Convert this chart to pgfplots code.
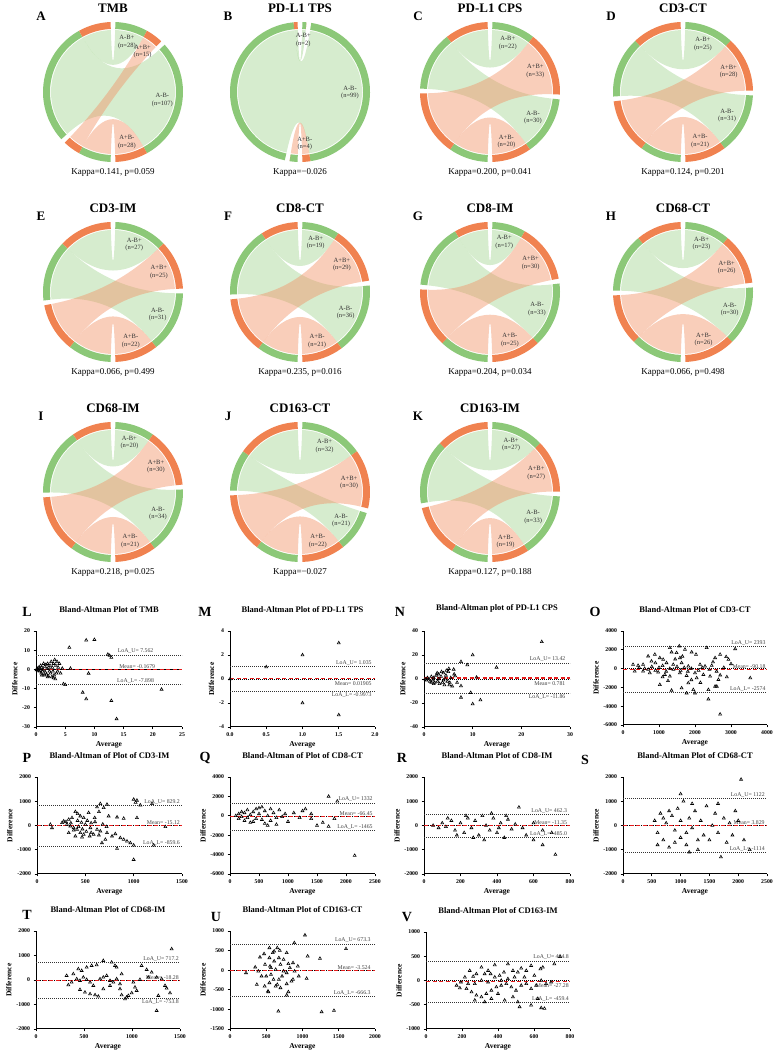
\documentclass[border=0pt]{standalone}
\usepackage{fontspec}
\setmainfont{Liberation Serif}
\usepackage{pgfplots}
\pgfplotsset{compat=1.18}
\definecolor{ringG}{RGB}{140,200,120}
\definecolor{ringO}{RGB}{240,130,80}
\definecolor{ribG}{RGB}{164,213,146}
\definecolor{ribO}{RGB}{242,146,102}
\definecolor{mred}{RGB}{230,30,30}
\pgfplotsset{
 chordax/.style={hide axis, x=1pt, y=1pt, xmin=-80, xmax=80, ymin=-80, ymax=80, anchor=center, clip=false},
 ba/.style={scale only axis, anchor=south west, clip=false,
  axis lines*=left,
  axis line style={line width=1pt, black},
  tick align=outside, major tick length=2.5pt,
  tick style={black, line width=0.8pt},
  tick label style={font=\bfseries\fontsize{5.8}{6}\selectfont},
  /pgf/number format/1000 sep={},
  /pgf/number format/assume math mode=true,
  scaled ticks=false,
  xlabel={Average}, ylabel={Difference},
  xlabel style={font=\bfseries\fontsize{7.5}{8}\selectfont, yshift=2pt},
  ylabel style={font=\bfseries\fontsize{7.5}{8}\selectfont, yshift=-2pt},
  title style={font=\bfseries\fontsize{8.5}{9}\selectfont, yshift=9pt}},
 pts/.style={only marks, mark=triangle, mark size=1.7pt, mark options={black, line width=0.6pt}},
 meanl/.style={mred, line width=1.2pt, dash pattern=on 4pt off 2.5pt},
 loal/.style={black!80, line width=0.6pt, dash pattern=on 0.6pt off 1.4pt},
 zerol/.style={black, line width=0.5pt, dash pattern=on 0.6pt off 1.4pt},
}
\tikzset{clab/.style={font=\fontsize{6.5}{7.5}\selectfont, align=center, text=black!80, inner sep=0pt},
 lbl/.style={font=\fontsize{5.8}{6}\selectfont, text=black!75, inner sep=1pt},
 plet/.style={font=\bfseries\fontsize{14}{15}\selectfont},
 clet/.style={font=\bfseries\fontsize{13}{14}\selectfont}}

\newcommand{\chordring}[3]{\fill[#3] ({70*cos(#1)},{70*sin(#1)}) arc[start angle=#1,end angle=#2,radius=70pt] -- ({63*cos(#2)},{63*sin(#2)}) arc[start angle=#2,end angle=#1,radius=63pt] -- cycle;}
\newcommand{\chordrib}[5]{\fill[#5, fill opacity=0.45] ({62*cos(#1)},{62*sin(#1)}) arc[start angle=#1,end angle=#2,radius=62pt] .. controls ({20.7*cos(#2)},{20.7*sin(#2)}) and ({20.7*cos(#3)},{20.7*sin(#3)}) .. ({62*cos(#3)},{62*sin(#3)}) arc[start angle=#3,end angle=#4,radius=62pt] .. controls ({20.7*cos(#4)},{20.7*sin(#4)}) and ({20.7*cos(#1)},{20.7*sin(#1)}) .. cycle;}

% #1 cx, #2 cy, #3 A-B+, #4 A+B+, #5 A-B-, #6 A+B-, #7 title, #8 letter, #9 kappa
\newcommand{\chord}[9]{%
 \pgfmathsetmacro{\chT}{#3+#4+#5+#6}%
 \pgfmathsetmacro{\chU}{(360-16)/(2*\chT)}%
 \pgfmathsetmacro{\tA}{88}%
 \pgfmathsetmacro{\tB}{\tA-#3*\chU}%
 \pgfmathsetmacro{\tC}{\tB-#4*\chU}%
 \pgfmathsetmacro{\tD}{\tC-4}%
 \pgfmathsetmacro{\tE}{\tD-#5*\chU}%
 \pgfmathsetmacro{\tF}{\tE-#6*\chU}%
 \pgfmathsetmacro{\pA}{-92}%
 \pgfmathsetmacro{\pB}{\pA-#6*\chU}%
 \pgfmathsetmacro{\pC}{\pB-#4*\chU}%
 \pgfmathsetmacro{\pD}{\pC-4}%
 \pgfmathsetmacro{\pE}{\pD-#5*\chU}%
 \pgfmathsetmacro{\pF}{\pE-#3*\chU}%
 \pgfmathsetmacro{\mA}{(\tA+\tB)/2}%
 \pgfmathsetmacro{\mB}{(\tB+\tC)/2}%
 \pgfmathsetmacro{\mC}{(\tD+\tE)/2}%
 \pgfmathsetmacro{\mD}{(\tE+\tF)/2}%
 \begin{axis}[chordax, at={(#1pt,#2pt)}]
  \chordrib{\tA}{\tB}{\pE}{\pF}{ribG}
  \chordrib{\tD}{\tE}{\pD}{\pE}{ribG}
  \ifnum#4>0 \chordrib{\tB}{\tC}{\pB}{\pC}{ribO}\fi
  \chordrib{\tE}{\tF}{\pA}{\pB}{ribO}
  \chordring{\tA}{\tB}{ringG}
  \chordring{\tB}{\tC}{ringO}
  \chordring{\tD}{\tE}{ringG}
  \chordring{\tE}{\tF}{ringO}
  \chordring{\pA}{\pB}{ringG}
  \chordring{\pB}{\pC}{ringO}
  \chordring{\pD}{\pE}{ringG}
  \chordring{\pE}{\pF}{ringO}
  \node[clab] at ({52*cos(\mA)},{52*sin(\mA)}) {A-B+\\(n=#3)};
  \ifnum#4>0 \node[clab] at ({50*cos(\mB)},{50*sin(\mB)}) {A+B+\\(n=#4)};\fi
  \node[clab] at ({50*cos(\mC)},{50*sin(\mC)}) {A-B-\\(n=#5)};
  \node[clab] at ({52*cos(\mD)},{52*sin(\mD)}) {A+B-\\(n=#6)};
 \end{axis}
 \node[clet] at (#1pt,#2pt+84pt) {#7};
 \node[clet] at (#1pt-72pt,#2pt+76pt) {#8};
 \node[font=\fontsize{9}{10}\selectfont] at (#1pt,#2pt-80pt) {#9};
}

\begin{document}
\begin{tikzpicture}
\useasboundingbox (0,0) rectangle (776pt,1053pt);

\chord{113}{961}{28}{15}{107}{28}{TMB}{A}{Kappa=0.141, p=0.059}
\chord{300}{961}{2}{0}{99}{4}{PD-L1 TPS}{B}{Kappa=−0.026}
\chord{490}{961}{22}{33}{30}{20}{PD-L1 CPS}{C}{Kappa=0.200, p=0.041}
\chord{683}{961}{25}{28}{31}{21}{CD3-CT}{D}{Kappa=0.124, p=0.201}
\chord{113}{761}{27}{25}{31}{22}{CD3-IM}{E}{Kappa=0.066, p=0.499}
\chord{300}{761}{19}{29}{36}{21}{CD8-CT}{F}{Kappa=0.235, p=0.016}
\chord{490}{761}{17}{30}{33}{25}{CD8-IM}{G}{Kappa=0.204, p=0.034}
\chord{683}{761}{23}{26}{30}{26}{CD68-CT}{H}{Kappa=0.066, p=0.498}
\chord{113}{561}{20}{30}{34}{21}{CD68-IM}{I}{Kappa=0.218, p=0.025}
\chord{300}{561}{32}{30}{21}{22}{CD163-CT}{J}{Kappa=−0.027}
\chord{490}{561}{27}{27}{33}{19}{CD163-IM}{K}{Kappa=0.127, p=0.188}

% ---------------- L
\begin{axis}[ba, at={(36pt,326pt)}, width=146pt, height=96pt, xmin=0, xmax=25, ymin=-30, ymax=20,
 xtick={0,5,...,25}, ytick={-30,-20,...,20}, title={Bland-Altman Plot of TMB}]
\addplot[black, line width=0.8pt] coordinates {(0,0) (25,0)};
\addplot[loal] coordinates {(0,7.562) (25,7.562)};
\addplot[loal] coordinates {(0,-7.898) (25,-7.898)};
\addplot[meanl] coordinates {(0,-0.1679) (25,-0.1679)};
\addplot[pts] coordinates {(0.1,-0.3) (0.15,0.2) (0.2,0) (0.3,0.5) (0.4,-0.5) (0.5,1) (0.6,-1) (0.7,0.5) (0.8,2) (0.9,-2) (1,1) (1.0,-3) (1.1,-1) (1.2,0) (1.3,3) (1.4,-3) (1.5,1.5) (1.6,-1.5) (1.7,2.5) (1.8,-2.5) (1.9,0.5) (2,3) (2.0,-4) (2.1,-3.5) (2.2,1) (2.3,-1) (2.4,2) (2.5,-2) (2.6,4) (2.7,-4) (2.8,1) (2.9,-1) (3,3) (3.0,-4.5) (3.1,-3) (3.2,5) (3.3,-5) (3.4,2) (3.5,-2) (3.6,4) (3.7,-1) (3.8,1) (4,3) (4.2,-2) (4.5,0.5) (4.7,-7.6) (5.0,-8) (5.7,11.4) (5.9,0.5) (8.6,15.2) (10.0,15.5) (9.0,-2.1) (8.0,-12) (8.6,-15.4) (12.3,7.8) (12.6,7.2) (12.9,6.2) (12.9,-16.3) (13.8,-25.8) (21.5,-10.4)};
\node[lbl, anchor=south east] at (axis cs:20.3,7.562) {LoA\_U= 7.562};
\node[lbl, anchor=south east] at (axis cs:20.6,-0.1679) {Mean= -0.1679};
\node[lbl, anchor=south east] at (axis cs:20.4,-7.898) {LoA\_L= -7.898};
\end{axis}
\node[plet] at (27pt,441pt) {L};

% ---------------- M
\begin{axis}[ba, at={(230pt,326pt)}, width=145pt, height=96pt, xmin=0, xmax=2, ymin=-4, ymax=4,
 xtick={0,0.5,...,2}, ytick={-4,-2,...,4}, title={Bland-Altman Plot of PD-L1 TPS},
 xticklabel style={/pgf/number format/.cd, fixed, fixed zerofill, precision=1}]
\addplot[zerol] coordinates {(0,0) (2,0)};
\addplot[loal] coordinates {(0,1.035) (2,1.035)};
\addplot[loal] coordinates {(0,-0.9973) (2,-0.9973)};
\addplot[meanl] coordinates {(0,0.01905) (2,0.01905)};
\addplot[pts] coordinates {(0,0) (0.5,1) (1,2) (1,-2) (1.5,3) (1.5,-3)};
\node[lbl, anchor=south east] at (axis cs:1.97,1.035) {LoA\_U= 1.035};
\node[lbl, anchor=north east] at (axis cs:1.97,-0.1) {Mean= 0.01905};
\node[lbl, anchor=north east] at (axis cs:1.97,-0.9973) {LoA\_L= -0.9973};
\end{axis}
\node[plet] at (205pt,441pt) {M};

% ---------------- N
\begin{axis}[ba, at={(424pt,326pt)}, width=146pt, height=96pt, xmin=0, xmax=30, ymin=-40, ymax=40,
 xtick={0,10,...,30}, ytick={-40,-20,...,40}, title={Bland-Altman plot of PD-L1 CPS}]
\addplot[zerol] coordinates {(0,0) (30,0)};
\addplot[loal] coordinates {(0,13.42) (30,13.42)};
\addplot[loal] coordinates {(0,-11.86) (30,-11.86)};
\addplot[meanl] coordinates {(0,0.781) (30,0.781)};
\addplot[pts] coordinates {(0.2,0) (0.5,-1) (0.7,1) (1,0) (1.2,-2) (1.5,2) (1.8,-1) (2,1) (2.2,-3) (2.5,3) (2.8,-2) (3,4) (3.2,-4) (3.5,2) (3.8,-3) (4,5) (4.2,-5) (4.5,3) (4.8,-2) (5,6) (5.2,-5) (5.5,1) (5.8,-6) (6.2,4) (3,0) (2,-4) (4,-1) (1.5,-3) (2.7,5) (3.6,6) (4.6,7) (6.8,-3) (4.4,0) (5.3,-3) (24.2,31) (10,20) (7.6,14.4) (8.9,11.7) (14.9,9.7) (6.1,8) (5.1,8.6) (6.4,2.5) (10.8,1.4) (7.6,-5.8) (9.6,-11.4) (7.6,-15.3) (10,-20.8) (11.6,-17.5)};
\node[lbl, anchor=south east] at (axis cs:29.3,13.42) {LoA\_U= 13.42};
\node[lbl, anchor=north east] at (axis cs:29.3,-1) {Mean= 0.781};
\node[lbl, anchor=north east] at (axis cs:29.3,-11.86) {LoA\_L= -11.86};
\end{axis}
\node[plet] at (400pt,441pt) {N};

% ---------------- O
\begin{axis}[ba, at={(623pt,328pt)}, width=144pt, height=94pt, xmin=0, xmax=4000, ymin=-6000, ymax=4000,
 xtick={0,1000,...,4000}, ytick={-6000,-4000,...,4000}, title={Bland-Altman Plot of CD3-CT}]
\addplot[zerol] coordinates {(0,0) (4000,0)};
\addplot[loal] coordinates {(0,2393) (4000,2393)};
\addplot[loal] coordinates {(0,-2574) (4000,-2574)};
\addplot[meanl] coordinates {(0,-90.18) (4000,-90.18)};
\addplot[pts] coordinates {(1302,2214) (1563,2393) (1349,1750) (1488,1679) (1581,1143) (1721,2036) (1907,1750) (2028,1500) (2326,2214) (2698,1500) (2558,1143) (2865,1250) (2930,964) (3116,2100) (698,1321) (884,1500) (1023,1143) (1116,964) (791,786) (558,429) (419,321) (1209,607) (1395,429) (1628,607) (1814,250) (2140,429) (2279,250) (2465,321) (279,429) (326,-286) (558,-286) (744,-464) (977,-393) (1163,-643) (1302,-821) (1581,-464) (1767,-750) (2000,-464) (2047,-1000) (2233,-643) (2419,-821) (2651,-1179) (2884,-893) (3535,-1000) (1023,-1714) (1349,-2321) (1628,-2071) (1814,-1536) (1953,-2250) (2000,-2607) (1767,-2607) (2372,-2250) (2558,-1893) (2605,-1893) (2372,-3250) (2698,-4857) (450,100) (600,0) (700,-100) (800,200) (900,-200) (1000,100) (1100,300) (1200,-300) (1300,0) (1400,-100) (1500,200) (1600,-200) (1700,100) (1800,-300) (1900,0) (2100,-200) (2200,100) (2400,-100) (2600,-300) (2800,100) (1450,1000) (1650,1300) (1250,-1300) (1900,-1200) (2150,-1500) (900,600) (1100,-900) (2500,700) (2700,-700) (3000,500)};
\node[lbl, anchor=south east] at (axis cs:3990,2393) {LoA\_U= 2393};
\node[lbl, anchor=south east] at (axis cs:3990,-150) {Mean= -90.18};
\node[lbl, anchor=south east] at (axis cs:3990,-2574) {LoA\_L= -2574};
\end{axis}
\node[plet] at (595pt,441pt) {O};

% ---------------- P
\begin{axis}[ba, at={(37pt,179pt)}, width=145pt, height=97pt, xmin=0, xmax=1500, ymin=-2000, ymax=2000,
 xtick={0,500,...,1500}, ytick={-2000,-1000,...,2000}, title={Bland-Altman of Plot of CD3-IM}]
\addplot[zerol] coordinates {(0,0) (1500,0)};
\addplot[loal] coordinates {(0,829.2) (1500,829.2)};
\addplot[loal] coordinates {(0,-859.6) (1500,-859.6)};
\addplot[meanl] coordinates {(0,-15.12) (1500,-15.12)};
\addplot[pts] coordinates {(1000,1076) (1034,1034) (1020,950) (1069,841) (1190,897) (397,566) (421,483) (448,386) (362,317) (328,248) (483,317) (534,524) (597,317) (621,759) (655,897) (690,731) (724,869) (641,566) (741,386) (828,345) (897,290) (1034,317) (500,41) (552,-97) (621,-166) (655,-234) (724,-303) (776,-441) (810,-345) (862,-510) (897,-579) (931,-648) (966,-717) (1000,-814) (828,-952) (1000,-1407) (1207,-814) (1328,-55) (138,41) (155,-97) (259,110) (276,179) (310,41) (345,-28) (379,-97) (414,-166) (448,-303) (483,-372) (328,-303) (397,-441) (466,-483) (545,-441) (586,-372) (672,-717) (707,-579) (300,150) (350,100) (420,200) (460,120) (520,200) (560,100) (600,150) (680,50) (720,-50) (380,-200) (430,-50) (470,-150) (510,-250) (560,-300) (640,-400)};
\node[lbl, anchor=south east] at (axis cs:1490,829.2) {LoA\_U= 829.2};
\node[lbl, anchor=south east] at (axis cs:1490,-15.12) {Mean= -15.12};
\node[lbl, anchor=south east] at (axis cs:1490,-859.6) {LoA\_L= -859.6};
\end{axis}
\node[plet] at (27pt,295pt) {P};

% ---------------- Q
\begin{axis}[ba, at={(230pt,179pt)}, width=145pt, height=97pt, xmin=0, xmax=2500, ymin=-6000, ymax=4000,
 xtick={0,500,...,2500}, ytick={-6000,-4000,...,4000}, title={Bland-Altman of Plot of CD8-CT}]
\addplot[zerol] coordinates {(0,0) (2500,0)};
\addplot[loal] coordinates {(0,1332) (2500,1332)};
\addplot[loal] coordinates {(0,-1465) (2500,-1465)};
\addplot[meanl] coordinates {(0,-66.45) (2500,-66.45)};
\addplot[pts] coordinates {(100,0) (150,200) (200,-100) (250,300) (300,-200) (350,100) (400,400) (450,-300) (500,200) (550,-400) (600,500) (650,0) (700,-500) (750,300) (800,-200) (850,600) (900,-100) (950,200) (1000,-600) (300,600) (400,-600) (500,800) (600,-800) (700,700) (800,-900) (200,400) (1100,300) (1200,-200) (1250,500) (1300,700) (1400,-300) (1500,-1000) (1600,-700) (1700,2000) (1850,1500) (1700,-1100) (1800,-300) (2150,-4100) (1400,200) (150,-300) (250,-500) (350,-700) (450,700) (550,900) (650,-1000)};
\node[lbl, anchor=south east] at (axis cs:2480,1332) {LoA\_U= 1332};
\node[lbl, anchor=south east] at (axis cs:2480,-66.45) {Mean= -66.45};
\node[lbl, anchor=south east] at (axis cs:2480,-1465) {LoA\_L= -1465};
\end{axis}
\node[plet] at (205pt,295pt) {Q};

% ---------------- R
\begin{axis}[ba, at={(424pt,179pt)}, width=146pt, height=97pt, xmin=0, xmax=800, ymin=-2000, ymax=2000,
 xtick={0,200,...,800}, ytick={-2000,-1000,...,2000}, title={Bland-Altman Plot of CD8-IM}]
\addplot[zerol] coordinates {(0,0) (800,0)};
\addplot[loal] coordinates {(0,462.3) (800,462.3)};
\addplot[loal] coordinates {(0,-485.0) (800,-485.0)};
\addplot[meanl] coordinates {(0,-11.35) (800,-11.35)};
\addplot[pts] coordinates {(50,0) (80,-100) (100,100) (120,-50) (150,200) (170,-200) (200,100) (220,-300) (240,300) (260,-100) (280,200) (300,-400) (320,400) (340,0) (360,-200) (380,300) (400,-300) (420,100) (440,-500) (460,250) (480,-150) (500,50) (520,750) (540,-100) (560,-400) (600,-600) (650,-800) (720,-1200) (700,-300) (130,300) (180,-400) (230,400) (270,-500) (330,-600) (370,500) (410,-100) (450,400) (600,100) (650,-200)};
\node[lbl, anchor=south east] at (axis cs:790,462.3) {LoA\_U= 462.3};
\node[lbl, anchor=south east] at (axis cs:790,-11.35) {Mean= -11.35};
\node[lbl, anchor=south east] at (axis cs:790,-485.0) {LoA\_L= -485.0};
\end{axis}
\node[plet] at (402pt,295pt) {R};

% ---------------- S
\begin{axis}[ba, at={(623pt,179pt)}, width=144pt, height=97pt, xmin=0, xmax=2500, ymin=-2000, ymax=2000,
 xtick={0,500,...,2500}, ytick={-2000,-1000,...,2000}, title={Bland-Altman Plot of CD68-CT}]
\addplot[zerol] coordinates {(0,0) (2500,0)};
\addplot[loal] coordinates {(0,1122) (2500,1122)};
\addplot[loal] coordinates {(0,-1114) (2500,-1114)};
\addplot[meanl] coordinates {(0,3.829) (2500,3.829)};
\addplot[pts] coordinates {(550,200) (600,-300) (650,500) (700,-600) (750,100) (800,-900) (850,400) (900,-200) (950,700) (1000,-500) (1050,1000) (1100,-800) (1150,300) (1200,-100) (1250,600) (1300,-1000) (1350,200) (1400,-400) (1450,800) (1500,-600) (1550,0) (1600,500) (1650,-300) (1700,-1300) (1750,300) (1800,-700) (1850,100) (1900,-400) (1950,600) (2050,1900) (2100,-600) (2200,-1000) (700,300) (800,600) (900,-700) (1000,200) (1100,-300) (1200,900) (1300,-600) (1000,1300) (1150,-1100) (600,-800) (2000,200) (1650,900)};
\node[lbl, anchor=south east] at (axis cs:2480,1122) {LoA\_U= 1122};
\node[lbl, anchor=south east] at (axis cs:2480,3.829) {Mean= 3.829};
\node[lbl, anchor=south east] at (axis cs:2480,-1114) {LoA\_L= -1114};
\end{axis}
\node[plet] at (585pt,293pt) {S};

% ---------------- T
\begin{axis}[ba, at={(36pt,24pt)}, width=144pt, height=98pt, xmin=0, xmax=1500, ymin=-2000, ymax=2000,
 xtick={0,500,...,1500}, ytick={-2000,-1000,...,2000}, title={Bland-Altman Plot of CD68-IM}]
\addplot[zerol] coordinates {(0,0) (1500,0)};
\addplot[loal] coordinates {(0,717.2) (1500,717.2)};
\addplot[loal] coordinates {(0,-753.8) (1500,-753.8)};
\addplot[meanl] coordinates {(0,-18.28) (1500,-18.28)};
\addplot[pts] coordinates {(1413,1265) (1100,585) (1153,422) (1205,313) (1170,109) (1257,109) (1309,41) (1344,-231) (1361,-340) (1396,-531) (1274,-639) (1257,-1252) (1083,14) (1014,-95) (1031,-299) (1049,-435) (997,-531) (962,-639) (944,-707) (927,-776) (892,-612) (875,-367) (840,517) (788,721) (823,585) (701,789) (632,612) (580,585) (528,517) (476,381) (441,449) (389,245) (319,177) (337,-204) (371,-95) (424,41) (458,-27) (493,109) (528,14) (563,-95) (597,-231) (458,-395) (510,-503) (563,-571) (615,-612) (649,-667) (667,41) (701,109) (736,177) (771,-27) (806,-95) (840,41) (875,-163) (892,245) (771,-231) (701,-367)};
\node[lbl, anchor=south east] at (axis cs:1500,717.2) {LoA\_U= 717.2};
\node[lbl, anchor=south east] at (axis cs:1500,-18.28) {Mean= -18.28};
\node[lbl, anchor=north east] at (axis cs:1500,-753.8) {LoA\_L= -753.8};
\end{axis}
\node[plet] at (27pt,138pt) {T};

% ---------------- U
\begin{axis}[ba, at={(230pt,24pt)}, width=145pt, height=98pt, xmin=0, xmax=2000, ymin=-1500, ymax=1000,
 xtick={0,500,...,2000}, ytick={-1500,-1000,...,1000}, title={Bland-Altman Plot of CD163-CT}]
\addplot[zerol] coordinates {(0,0) (2000,0)};
\addplot[loal] coordinates {(0,673.3) (2000,673.3)};
\addplot[loal] coordinates {(0,-666.3) (2000,-666.3)};
\addplot[meanl] coordinates {(0,-3.524) (2000,-3.524)};
\addplot[pts] coordinates {(1034,894) (887,698) (1071,357) (1241,298) (1600,545) (221,-68) (529,-553) (667,-1047) (1264,-1064) (1434,-1030) (805,-553) (782,-638) (1057,-213) (413,332) (470,417) (544,570) (590,443) (652,570) (687,502) (782,443) (609,230) (552,102) (483,145) (348,77) (391,-26) (435,-153) (370,-366) (478,-409) (544,-323) (600,-238) (652,-366) (674,-238) (718,-153) (782,-68) (826,60) (869,187) (891,-26) (935,102) (848,-281) (782,-349) (696,-451) (630,-409) (524,-536) (565,60) (630,17) (696,145) (739,272) (565,-111) (500,-153) (739,-26) (805,162) (869,-238) (948,-153) (674,315) (609,485) (544,315)};
\node[lbl, anchor=south east] at (axis cs:1955,673.3) {LoA\_U= 673.3};
\node[lbl, anchor=south east] at (axis cs:1955,-3.524) {Mean= -3.524};
\node[lbl, anchor=south east] at (axis cs:1955,-666.3) {LoA\_L= -666.3};
\end{axis}
\node[plet] at (216pt,136pt) {U};

% ---------------- V
\begin{axis}[ba, at={(426pt,24pt)}, width=144pt, height=97pt, xmin=0, xmax=800, ymin=-1000, ymax=1000,
 xtick={0,200,...,800}, ytick={-1000,-500,...,1000}, title={Bland-Altman Plot of CD163-IM}]
\addplot[zerol] coordinates {(0,0) (800,0)};
\addplot[loal] coordinates {(0,404.8) (800,404.8)};
\addplot[loal] coordinates {(0,-459.4) (800,-459.4)};
\addplot[meanl] coordinates {(0,-27.28) (800,-27.28)};
\addplot[pts] coordinates {(745,490) (713,340) (649,272) (636,238) (584,306) (557,204) (529,252) (510,170) (483,204) (455,340) (433,170) (409,102) (382,320) (345,204) (326,136) (308,272) (280,136) (262,82) (243,204) (216,68) (194,-34) (170,-102) (188,-156) (225,-170) (253,-238) (280,-306) (308,-340) (335,-272) (363,-204) (391,-136) (418,-102) (446,-68) (474,-136) (500,-204) (529,-102) (557,-68) (584,-170) (612,-102) (640,0) (667,-68) (695,-34) (520,-544) (584,-510) (621,-374) (640,-565) (658,-578) (483,-340) (510,-442) (437,-408) (363,-374) (326,-442) (271,-408) (400,-272) (345,-34) (382,68) (418,0) (455,34) (492,68) (547,68) (602,102) (308,0) (271,-68) (234,-68) (359,136)};
\node[lbl, anchor=south east] at (axis cs:800,404.8) {LoA\_U= 404.8};
\node[lbl, anchor=north east] at (axis cs:800,-40) {Mean= -27.28};
\node[lbl, anchor=south east] at (axis cs:800,-459.4) {LoA\_L= -459.4};
\end{axis}
\node[plet] at (407pt,136pt) {V};
\end{tikzpicture}
\end{document}
